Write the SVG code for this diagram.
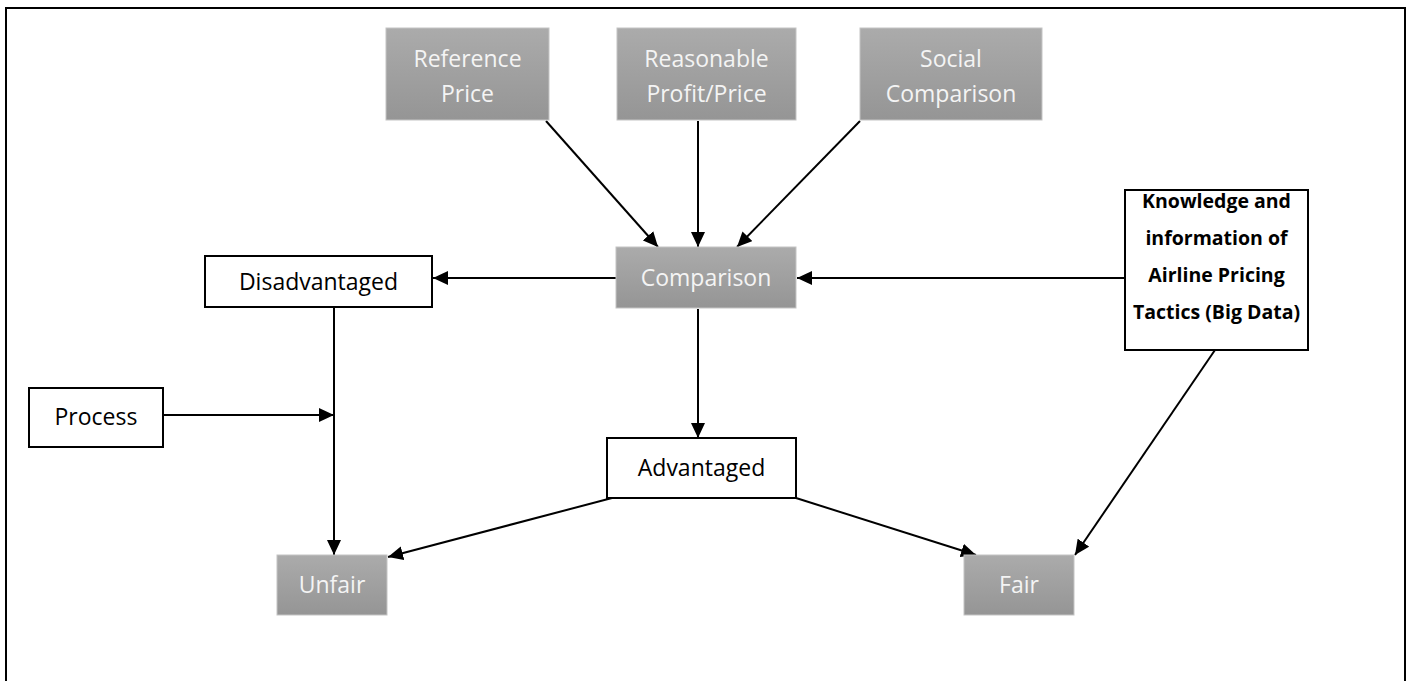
<svg xmlns="http://www.w3.org/2000/svg" width="1412" height="681" viewBox="0 0 1412 681">
<defs>
<linearGradient id="g" x1="0" y1="0" x2="0" y2="1">
<stop offset="0" stop-color="#ababab"/>
<stop offset="1" stop-color="#959595"/>
</linearGradient>
<marker id="ah" markerWidth="15" markerHeight="14" refX="15" refY="7" orient="auto" markerUnits="userSpaceOnUse">
<path d="M0,0 L15,7 L0,14 Z" fill="#000"/>
</marker>
<style>
.gray{fill:url(#g);stroke:#c4c4c4;stroke-width:1}
.white{fill:#fff;stroke:#000;stroke-width:2}
.tw{font-family:"Open Sans","Liberation Sans",sans-serif;font-size:23px;fill:#f4f4f4;text-anchor:middle}
.tb{font-family:"Open Sans","Liberation Sans",sans-serif;font-size:23px;fill:#000;text-anchor:middle}
.tk{font-family:"Open Sans","Liberation Sans",sans-serif;font-size:19.5px;font-weight:bold;fill:#000;text-anchor:middle}
.c{stroke:#000;stroke-width:2;fill:none}
.a{stroke:#000;stroke-width:2;fill:none;marker-end:url(#ah)}
</style>
</defs>
<rect x="0" y="0" width="1412" height="681" fill="#fff"/>
<rect x="6" y="8" width="1399" height="700" fill="none" stroke="#000" stroke-width="2"/>
<g id="connectors">
<line class="a" x1="546" y1="121" x2="658" y2="247"/>
<line class="a" x1="698" y1="121" x2="698" y2="247"/>
<line class="a" x1="860" y1="121" x2="737" y2="247"/>
<line class="a" x1="616" y1="278" x2="433" y2="278"/>
<line class="a" x1="1125" y1="278" x2="797" y2="278"/>
<line class="a" x1="698" y1="309" x2="698" y2="438"/>
<line class="a" x1="334" y1="308" x2="334" y2="555"/>
<line class="a" x1="163" y1="415" x2="334" y2="415"/>
<line class="a" x1="612" y1="498" x2="388" y2="557"/>
<line class="a" x1="796" y1="498" x2="976" y2="555"/>
<line class="a" x1="1215" y1="350" x2="1075" y2="555"/>
</g>
<g id="reference-price">
<rect class="gray" x="386" y="28" width="163" height="92"/>
<text class="tw" x="467.5" y="67">Reference</text>
<text class="tw" x="467.5" y="102">Price</text>
</g>
<g id="reasonable-profit-price">
<rect class="gray" x="617" y="28" width="179" height="92"/>
<text class="tw" x="706.5" y="67">Reasonable</text>
<text class="tw" x="706.5" y="102">Profit/Price</text>
</g>
<g id="social-comparison">
<rect class="gray" x="860" y="28" width="182" height="92"/>
<text class="tw" x="951" y="67">Social</text>
<text class="tw" x="951" y="102">Comparison</text>
</g>
<g id="comparison">
<rect class="gray" x="616" y="247" width="180" height="61"/>
<text class="tw" x="706" y="286">Comparison</text>
</g>
<g id="disadvantaged">
<rect class="white" x="205" y="256" width="227" height="51"/>
<text class="tb" x="318.5" y="290">Disadvantaged</text>
</g>
<g id="knowledge">
<rect class="white" x="1125" y="190" width="183" height="160"/>
<text class="tk" x="1216.5" y="208">Knowledge and</text>
<text class="tk" x="1216.5" y="245">information of</text>
<text class="tk" x="1216.5" y="282">Airline Pricing</text>
<text class="tk" x="1216.5" y="319">Tactics (Big Data)</text>
</g>
<g id="process">
<rect class="white" x="29" y="388" width="134" height="59"/>
<text class="tb" x="96" y="425">Process</text>
</g>
<g id="advantaged">
<rect class="white" x="607" y="438" width="189" height="60"/>
<text class="tb" x="701.5" y="476">Advantaged</text>
</g>
<g id="unfair">
<rect class="gray" x="277" y="555" width="110" height="60"/>
<text class="tw" x="332" y="593">Unfair</text>
</g>
<g id="fair">
<rect class="gray" x="964" y="555" width="110" height="60"/>
<text class="tw" x="1019" y="593">Fair</text>
</g>
</svg>
